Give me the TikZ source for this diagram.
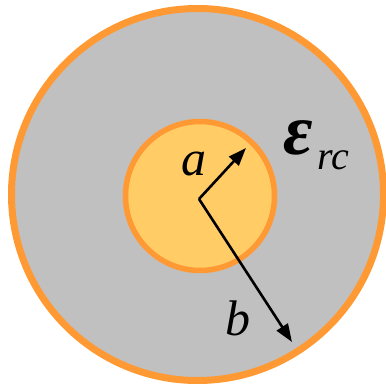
\documentclass[tikz,border=0pt]{standalone}
\usepackage{fontspec}
\setmainfont{Liberation Serif}
\newfontfamily\labelfont{Liberation Serif}[ItalicFont=* Italic,BoldItalicFont=* Bold Italic]
\usetikzlibrary{arrows.meta,positioning}
\definecolor{rimorange}{RGB}{255,153,51}
\definecolor{corefill}{RGB}{255,204,102}
\definecolor{shellgray}{RGB}{192,192,192}
\tikzset{
  shell/.style={circle,draw=rimorange,fill=shellgray,line width=7pt,
                minimum size=372pt,inner sep=0pt},
  core/.style={circle,draw=rimorange,fill=corefill,line width=5.5pt,
               minimum size=149pt,inner sep=0pt},
  rad/.style={-{Triangle[length=18pt,width=13pt]},line width=2.6pt},
  lbl/.style={inner sep=0pt,font=\labelfont\fontsize{50}{52}\selectfont\itshape},
  sublbl/.style={inner sep=0pt,font=\labelfont\fontsize{40}{42}\selectfont\itshape},
}

\begin{document}
\begin{tikzpicture}[x=1pt,y=-1pt]
  \useasboundingbox (0,0) rectangle (386,386);
  % rings
  \node[shell] (outer) at (197.5,194.5) {};
  \node[core] (inner) at (200,196) {};
  % radii
  \coordinate (o) at (199,199);
  \coordinate (tipa) at (246,148);
  \coordinate (tipb) at (292,342);
  \draw[rad] (o) -- (tipa);
  \draw[rad] (o) -- (tipb);
  % labels
  \node[lbl] (a) at (193.5,163.5) {a};
  \node[lbl] (b) at (237.5,318.5) {b};
  \node[lbl,font=\labelfont\fontsize{72}{74}\selectfont\bfseries\itshape] (eps) at (298.5,137.5) {ε};
  \node[sublbl] (rc) at (333.5,160) {rc};
\end{tikzpicture}
\end{document}
